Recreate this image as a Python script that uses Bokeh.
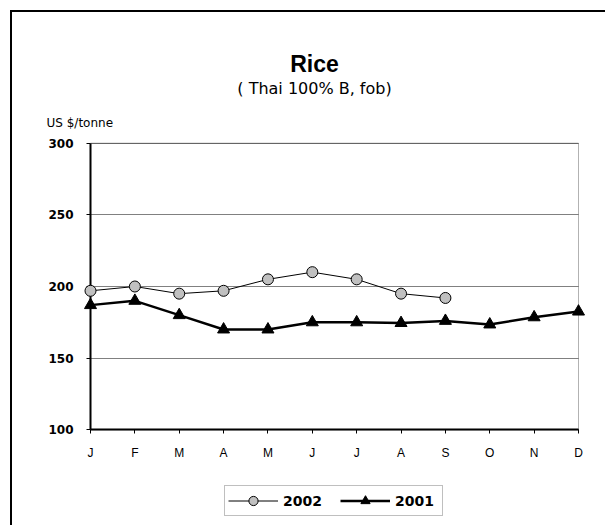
from bokeh.plotting import figure
from bokeh.models import Range1d, FixedTicker, Label, Legend, LegendItem, BoxAnnotation
from bokeh.embed import file_html
from bokeh.resources import INLINE

# ---- data ----
months = ["J", "F", "M", "A", "M", "J", "J", "A", "S", "O", "N", "D"]
rice_2002 = [197, 200, 195, 197, 205, 210, 205, 195, 192]
rice_2001 = [187, 190, 180, 170, 170, 175, 175, 174.5, 176, 173.5, 178.5, 182.5]
y_ticks = [100, 150, 200, 250, 300]

month_idx = list(range(len(months)))
x_2002 = month_idx[:len(rice_2002)]
x_2001 = month_idx[:len(rice_2001)]
x_lo, x_hi = month_idx[0], month_idx[-1]
y_lo, y_hi = y_ticks[0], y_ticks[-1]

# ---- layout (canvas = frame; plot area placed through the data ranges) ----
W, H = 595, 515
PL, PR, PT, PB = 78, 566, 130.7, 417.3   # plot-area edges on the canvas, px
sx = (PR - PL) / (x_hi - x_lo)
sy = (PB - PT) / (y_hi - y_lo)
x_range = Range1d(x_lo - PL / sx, x_hi + (W - PR) / sx)
y_range = Range1d(y_lo - (H - PB) / sy, y_hi + PT / sy)

p = figure(width=W, height=H, x_range=x_range, y_range=y_range,
           output_backend="svg", toolbar_location=None, min_border=0)
p.margin = (10, 0, 0, 10)
p.styles = {"border-left": "2px solid black", "border-top": "2px solid black"}
p.title.visible = False
p.background_fill_color = "white"
p.border_fill_color = "white"
p.outline_line_color = None

# axes fixed at the plot-area edges
p.xaxis.fixed_location = y_lo
p.yaxis.fixed_location = x_lo
p.xaxis.bounds = (x_lo, x_hi)
p.yaxis.bounds = (y_lo, y_hi)
p.xaxis.ticker = FixedTicker(ticks=month_idx)
p.xaxis.major_label_overrides = {i: m for i, m in enumerate(months)}
p.yaxis.ticker = FixedTicker(ticks=y_ticks)
for ax in (p.xaxis, p.yaxis):
    ax.axis_line_color = "black"
    ax.axis_line_width = 2
    ax.major_tick_line_color = "black"
    ax.major_tick_line_width = 1
    ax.major_tick_out = 4
    ax.major_tick_in = 0
    ax.minor_tick_line_color = None
p.xaxis.major_label_text_font = "Liberation Sans"
p.xaxis.major_label_text_font_size = "12px"
p.xaxis.major_label_text_color = "black"
p.xaxis.major_label_standoff = 12
p.yaxis.major_label_text_font = "DejaVu Sans"
p.yaxis.major_label_text_font_style = "bold"
p.yaxis.major_label_text_font_size = "12px"
p.yaxis.major_label_text_color = "black"
p.yaxis.major_label_standoff = 13

p.xgrid.visible = False
p.ygrid.bounds = (y_lo, y_hi)
p.ygrid.cross_bounds = (x_lo, x_hi)
p.ygrid.grid_line_color = "#808080"
p.ygrid.grid_line_width = 1

# plot-area border (top/right)
p.add_layout(BoxAnnotation(left=x_lo, right=x_hi, bottom=y_lo, top=y_hi,
                           fill_color=None, line_color="black", line_width=1))

# series
l2 = p.line(x_2001, rice_2001, line_color="black", line_width=2.5, level="overlay")
t2 = p.scatter(x_2001, rice_2001, marker="triangle", size=12,
               fill_color="black", line_color="black", level="overlay")
l1 = p.line(x_2002, rice_2002, line_color="black", line_width=1, level="overlay")
c1 = p.scatter(x_2002, rice_2002, marker="circle", size=11,
               fill_color="#C0C0C0", line_color="black", line_width=1, level="overlay")

# texts
p.add_layout(Label(x=302, y=464, x_units="screen", y_units="screen", text="Rice",
                   text_align="center", text_baseline="alphabetic",
                   text_font="Liberation Sans", text_font_style="bold",
                   text_font_size="23px", text_color="black"))
p.add_layout(Label(x=302, y=439, x_units="screen", y_units="screen",
                   text="( Thai 100% B, fob)",
                   text_align="center", text_baseline="alphabetic",
                   text_font="DejaVu Sans", text_font_size="16px", text_color="black"))
p.add_layout(Label(x=34, y=405, x_units="screen", y_units="screen",
                   text="US $/tonne",
                   text_align="left", text_baseline="alphabetic",
                   text_font="DejaVu Sans", text_font_size="12px", text_color="black"))

legend = Legend(items=[LegendItem(label="2002", renderers=[l1, c1]),
                       LegendItem(label="2001", renderers=[l2, t2])],
                location=(212, 11), orientation="horizontal",
                padding=3, margin=0, glyph_width=50, glyph_height=23,
                label_standoff=5, spacing=13, label_width=44,
                border_line_color="#808080", border_line_width=1.5,
                background_fill_color="white", background_fill_alpha=1,
                label_text_font="DejaVu Sans", label_text_font_style="bold",
                label_text_font_size="14px", label_text_color="black")
p.add_layout(legend)

open("out.html", "w").write(file_html(p, INLINE))
